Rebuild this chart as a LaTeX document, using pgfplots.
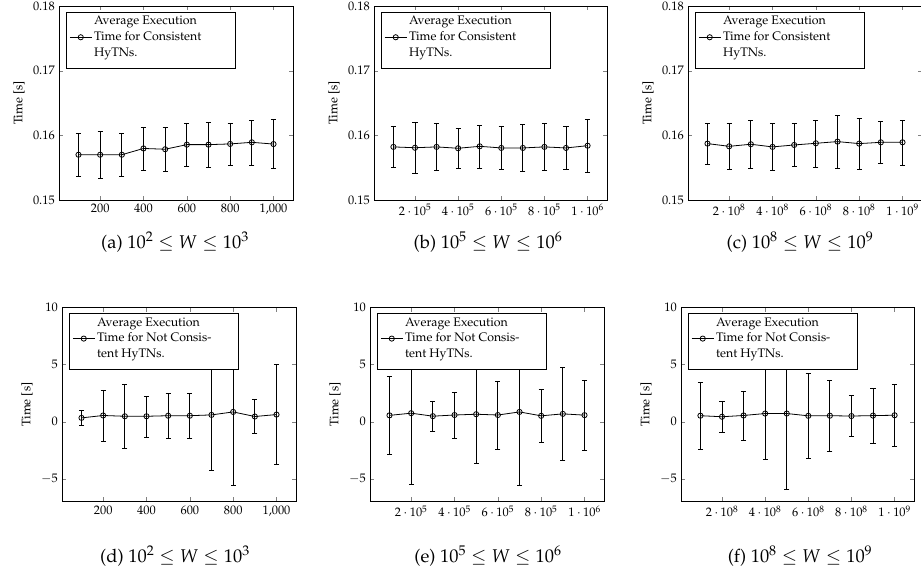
\documentclass[border=0pt]{standalone}
\usepackage[T1]{fontenc}
\usepackage{mathpazo}
\usepackage{pgfplots}
\pgfplotsset{compat=1.18}
\usepackage{pgfplotstable}

\pgfplotstableread{
x y e
100 0.1570 0.00326
200 0.1570 0.00367
300 0.1570 0.00326
400 0.15797 0.00336
500 0.15785 0.00346
600 0.15856 0.00336
700 0.15856 0.00344
800 0.15867 0.00328
900 0.15892 0.00349
1000 0.15865 0.00379
}\dataA

\pgfplotstableread{
x y e
100000 0.15821 0.00318
200000 0.15808 0.00390
300000 0.15821 0.00364
400000 0.15800 0.00308
500000 0.15830 0.00331
600000 0.15805 0.00331
700000 0.15805 0.00364
800000 0.15821 0.00367
900000 0.15805 0.00331
1000000 0.15840 0.00415
}\dataB

\pgfplotstableread{
x y e
100000000 0.15872 0.00320
200000000 0.15830 0.00359
300000000 0.15862 0.00369
400000000 0.15821 0.00362
500000000 0.15851 0.00333
600000000 0.15877 0.00364
700000000 0.15903 0.00408
800000000 0.15872 0.00390
900000000 0.15892 0.00328
1000000000 0.15892 0.00349
}\dataC

\pgfplotstableread{
x y e
100 0.33 0.68
200 0.54 2.22
300 0.47 2.80
400 0.47 1.79
500 0.52 1.97
600 0.52 1.97
700 0.59 4.85
800 0.85 6.44
900 0.45 1.49
1000 0.62 4.37
}\dataD

\pgfplotstableread{
x y e
100000 0.55 3.43
200000 0.74 6.18
300000 0.48 1.32
400000 0.58 1.99
500000 0.65 4.24
600000 0.58 2.99
700000 0.85 6.44
800000 0.51 2.32
900000 0.68 4.09
1000000 0.57 3.09
}\dataE

\pgfplotstableread{
x y e
100000000 0.52 2.93
200000000 0.43 1.34
300000000 0.54 2.16
400000000 0.71 3.97
500000000 0.71 6.65
600000000 0.51 3.72
700000000 0.52 3.10
800000000 0.49 1.78
900000000 0.53 2.38
1000000000 0.56 2.71
}\dataF

\newcommand{\pf}{\fontsize{12.4}{16}\selectfont}

\pgfplotsset{
  myax/.style={
    scale only axis, width=234bp, height=194bp, anchor=south west,
    ylabel={Time [s]},
    tick label style={font=\pf},
    label style={font=\pf},
    axis line style={line width=0.7pt},
    scaled x ticks=false, scaled y ticks=false,
    legend style={at={(0.03,0.97)}, anchor=north west, draw=black, fill=white,
      line width=0.7pt, font=\pf, cells={align=left}},
    legend image code/.code={%
      \draw[mark repeat=2,mark phase=2,##1] plot coordinates {(0bp,3bp) (11bp,3bp) (22bp,3bp)};},
  },
  topax/.style={ymin=0.15, ymax=0.18, ytick={0.15,0.16,0.17,0.18},
    yticklabel style={/pgf/number format/fixed, /pgf/number format/precision=2, /pgf/number format/fixed zerofill}},
  botax/.style={ymin=-7, ymax=10, ytick={-5,0,5,10}},
  ser/.style={black, mark=o, mark size=2.6bp, line width=0.8pt,
    error bars/.cd, y dir=both, y explicit,
    error bar style={line width=0.8pt}},
}

\newcommand{\legC}{\makebox[136bp][l]{Average Execution}\\Time for Consistent\\HyTNs.\\[-10bp]\mbox{}}
\newcommand{\legN}{\makebox[136bp][l]{Average Execution}\\Time for Not Consis-\\tent HyTNs.\\[-10bp]\mbox{}}

\begin{document}
\pf
\begin{tikzpicture}
\useasboundingbox (0,0) rectangle (921bp,574bp);

% top row
\begin{axis}[myax, topax, at={(59bp,374bp)}, width=234bp,
  xtick={200,400,600,800,1000}]
\addplot[ser] table[x=x, y=y, y error=e] {\dataA};
\addlegendentry{\legC}
\end{axis}

\begin{axis}[myax, topax, at={(374bp,374bp)}, width=233bp,
  xtick={200000,400000,600000,800000,1000000}]
\addplot[ser] table[x=x, y=y, y error=e] {\dataB};
\addlegendentry{\legC}
\end{axis}

\begin{axis}[myax, topax, at={(688bp,374bp)}, width=234bp,
  xtick={200000000,400000000,600000000,800000000,1000000000}]
\addplot[ser] table[x=x, y=y, y error=e] {\dataC};
\addlegendentry{\legC}
\end{axis}

% bottom row
\begin{axis}[myax, botax, at={(62bp,72.3bp)}, width=234bp, height=194.4bp,
  xtick={200,400,600,800,1000}]
\addplot[ser] table[x=x, y=y, y error=e] {\dataD};
\addlegendentry{\legN}
\end{axis}

\begin{axis}[myax, botax, at={(370bp,72.3bp)}, width=234bp, height=194.4bp,
  xtick={200000,400000,600000,800000,1000000}]
\addplot[ser] table[x=x, y=y, y error=e] {\dataE};
\addlegendentry{\legN}
\end{axis}

\begin{axis}[myax, botax, at={(681bp,72.3bp)}, width=233bp, height=194.4bp,
  xtick={200000000,400000000,600000000,800000000,1000000000}]
\addplot[ser] table[x=x, y=y, y error=e] {\dataF};
\addlegendentry{\legN}
\end{axis}

% captions
\node[font=\fontsize{18.5}{22}\selectfont] at (175bp,332bp) {(a) $10^2 \leq W \leq 10^3$};
\node[font=\fontsize{18.5}{22}\selectfont] at (488bp,332bp) {(b) $10^5 \leq W \leq 10^6$};
\node[font=\fontsize{18.5}{22}\selectfont] at (800bp,332bp) {(c) $10^8 \leq W \leq 10^9$};
\node[font=\fontsize{18.5}{22}\selectfont] at (175bp,18bp) {(d) $10^2 \leq W \leq 10^3$};
\node[font=\fontsize{18.5}{22}\selectfont] at (488bp,18bp) {(e) $10^5 \leq W \leq 10^6$};
\node[font=\fontsize{18.5}{22}\selectfont] at (800bp,18bp) {(f) $10^8 \leq W \leq 10^9$};
\end{tikzpicture}
\end{document}
